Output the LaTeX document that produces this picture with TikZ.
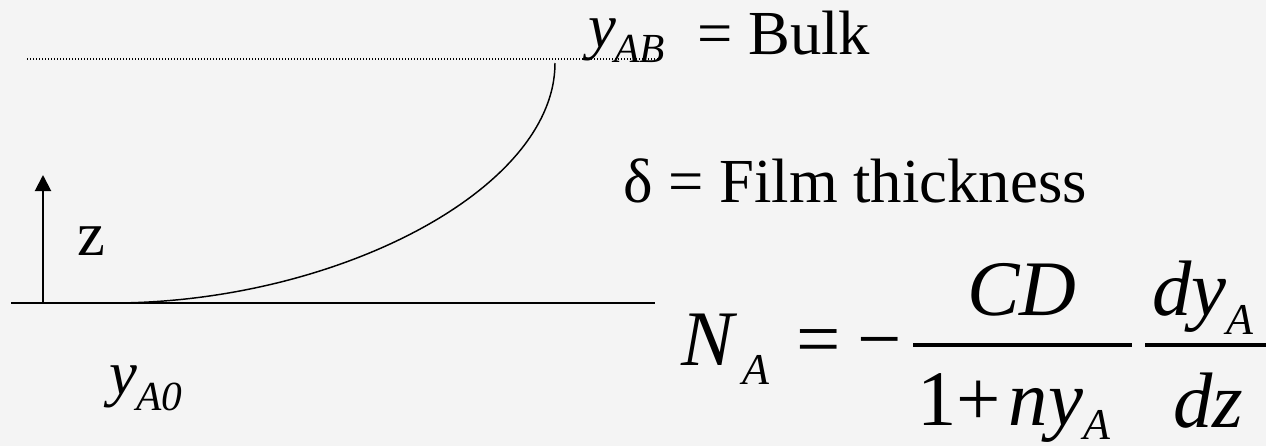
\documentclass[tikz,border=0pt]{standalone}
\usepackage{fontspec}
\setmainfont{Liberation Serif}
\usetikzlibrary{arrows.meta}
\definecolor{slidebg}{RGB}{244,244,244}

\begin{document}
\begin{tikzpicture}[
        x=0.75pt, y=-0.75pt,
        txt/.style={anchor=base west, inner sep=0pt, text height=0.7em, text depth=0.22em, font=\fontsize{47}{50}\selectfont},
        sub/.style={anchor=base west, inner sep=0pt, text height=0.7em, text depth=0.1em, font=\fontsize{31}{33}\selectfont\itshape},
        eq/.style={anchor=base west, inner sep=0pt, text height=0.72em, text depth=0.1em, font=\fontsize{59}{60}\selectfont},
        eqsub/.style={anchor=base west, inner sep=0pt, text height=0.7em, text depth=0.1em, font=\fontsize{33}{35}\selectfont\itshape},
        bulkline/.style={black, line width=0.9pt, dash pattern=on 0.9pt off 1.35pt},
        wall/.style={black, line width=1.5pt},
        profile/.style={black, line width=1.1pt},
        zarrow/.style={-{Triangle[length=12pt, width=12pt]}, black, line width=1.5pt},
        bar/.style={black, line width=2.6pt}
      ]
      \fill[slidebg] (0,0) rectangle (1266,446);
      \useasboundingbox (0,0) rectangle (1266,446);

      % film edges and concentration profile
      \coordinate (bulk_l) at (27,59);
      \coordinate (bulk_r) at (660,59);
      \coordinate (wall_l) at (11,303);
      \coordinate (wall_r) at (655,303);
      \coordinate (z_foot) at (43,303);
      \coordinate (z_tip) at (43,175);
      \coordinate (prof_bot) at (112,303);
      \coordinate (prof_top) at (555,63);

      \draw[bulkline] (bulk_l) -- (bulk_r);
      \draw[wall] (wall_l) -- (wall_r);
      \draw[zarrow] (z_foot) -- (z_tip);
      \draw[profile] (prof_bot) .. controls (335,303) and (555,190) .. (prof_top);

      \node[txt] (zlab) at (77,255) {z};
      \node[txt] (yab) at (588,47) {\itshape y};
      \node[sub] (yab_sub) at (614,62) {AB};
      \node[txt] (bulk) at (697,54) {= Bulk};
      \node[txt] (delta) at (623,202) {δ = Film thickness};
      \node[txt] (ya0) at (109,394) {\itshape y};
      \node[sub] (ya0_sub) at (136,410) {A0};

      % flux equation
      \node[eq] (nA) at (681,365) {\itshape N};
      \node[eqsub] (nA_sub) at (742,384) {A};
      \node[eq] (eqsign) at (796,365) {=};
      \node[eq] (minus) at (857,365) {\char"2212};
      \coordinate (bar1_l) at (913,345);
      \coordinate (bar1_r) at (1132,345);
      \coordinate (bar2_l) at (1145,345);
      \coordinate (bar2_r) at (1266,345);
      \draw[bar] (bar1_l) -- (bar1_r);
      \draw[bar] (bar2_l) -- (bar2_r);
      \node[eq, anchor=base] (cd) at (1022,315) {\itshape CD};
      \node[eq] (den1) at (917,425) {1+\kern6pt\textit{ny}\raisebox{-10.5pt}{\fontsize{33}{35}\selectfont\itshape A}};
      \node[eq] (dyA) at (1152,315) {\textit{dy}\raisebox{-14.25pt}{\fontsize{33}{35}\selectfont\itshape A}};
      \node[eq] (dz) at (1173,427) {\itshape dz};
    \end{tikzpicture}
\end{document}
